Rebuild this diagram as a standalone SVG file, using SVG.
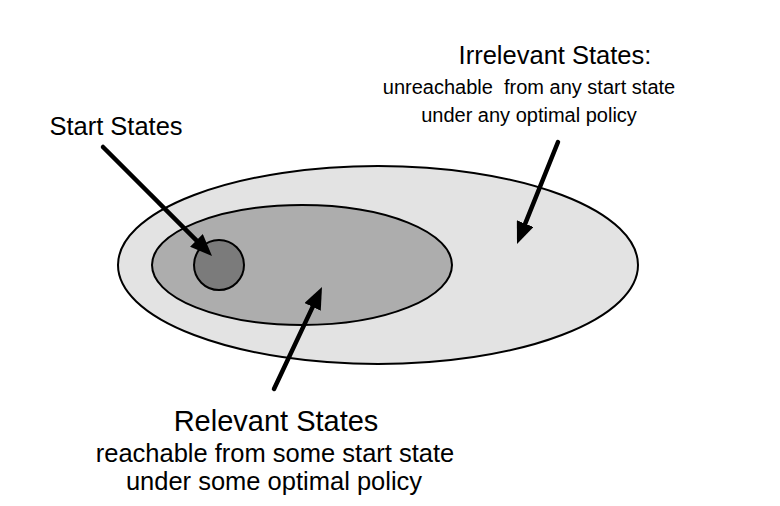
<svg xmlns="http://www.w3.org/2000/svg" width="780" height="506" viewBox="0 0 780 506">
<style>
.region{stroke:#000;stroke-width:2}
.title{font-family:"Liberation Sans",Arial,sans-serif;font-size:25.5px;fill:#000}
.sub{font-family:"Liberation Sans",Arial,sans-serif;font-size:20px;fill:#000;white-space:pre}
.title-lg{font-family:"Liberation Sans",Arial,sans-serif;font-size:29px;fill:#000}
.sub-lg{font-family:"Liberation Sans",Arial,sans-serif;font-size:25.5px;fill:#000}
.arrow{stroke:#000;stroke-width:4.5;fill:none;stroke-linecap:round}
</style>
<defs>
<marker id="head" markerUnits="userSpaceOnUse" markerWidth="22" markerHeight="18" viewBox="0 0 22 18" refX="7" refY="9" orient="auto">
<path d="M0,0 L22,9 L0,18 z" fill="#000"/>
</marker>
</defs>
<rect width="780" height="506" fill="#fff"/>
<g id="irrelevant-states">
<ellipse class="region" cx="378" cy="265" rx="260" ry="99" fill="#e3e3e3"/>
<text class="title" x="555" y="64" text-anchor="middle">Irrelevant States:</text>
<text class="sub" x="529" y="94" text-anchor="middle" xml:space="preserve">unreachable  from any start state</text>
<text class="sub" x="529" y="122" text-anchor="middle">under any optimal policy</text>
</g>
<g id="relevant-states">
<ellipse class="region" cx="302" cy="265" rx="150" ry="60" fill="#adadad"/>
<text class="title-lg" x="276" y="431" text-anchor="middle">Relevant States</text>
<text class="sub-lg" x="275" y="462" text-anchor="middle">reachable from some start state</text>
<text class="sub-lg" x="274" y="490" text-anchor="middle">under some optimal policy</text>
</g>
<g id="start-states">
<circle class="region" cx="219" cy="265" r="25" fill="#7b7b7b"/>
<text class="title" x="116" y="135" text-anchor="middle">Start States</text>
</g>
<g id="connectors">
<line class="arrow" x1="103" y1="147" x2="201.4" y2="245.4" marker-end="url(#head)"/>
<line class="arrow" x1="558" y1="142" x2="522.6" y2="230.1" marker-end="url(#head)"/>
<line class="arrow" x1="274" y1="389" x2="315.6" y2="300.6" marker-end="url(#head)"/>
</g>
</svg>
